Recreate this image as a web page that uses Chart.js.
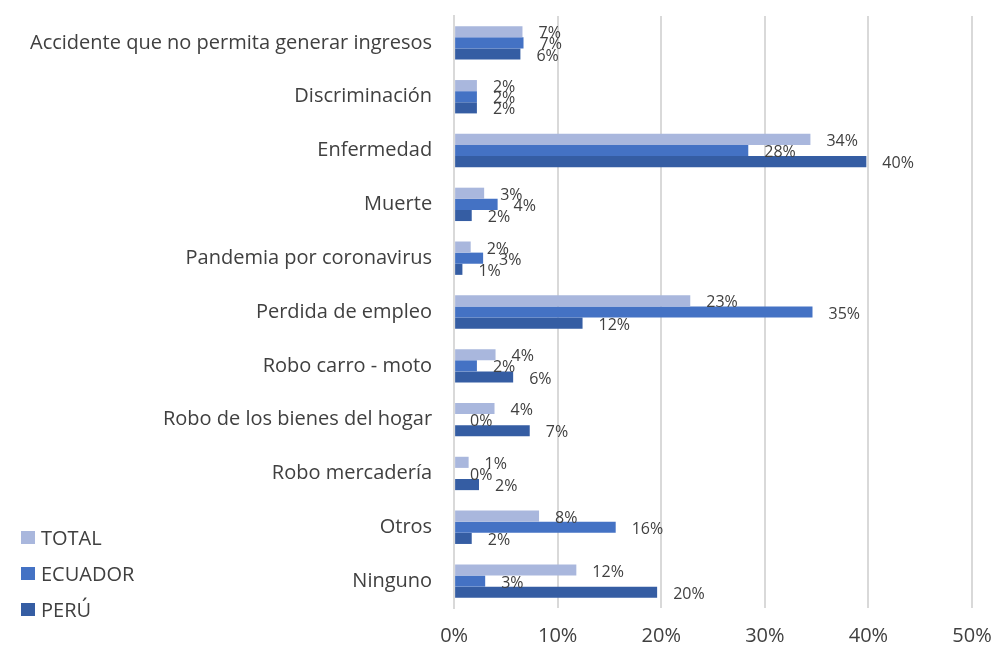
<!DOCTYPE html>
<html>
<head>
<meta charset="utf-8">
<script src="https://cdn.jsdelivr.net/npm/chart.js@4/dist/chart.umd.min.js"></script>
<style>
  html, body { margin: 0; padding: 0; background: #fff; }
  #wrap { width: 1004px; height: 648px; }
</style>
</head>
<body>
<div id="wrap"><canvas id="chart"></canvas></div>
<script>
// data
const categories = [
    'Accidente que no permita generar ingresos',
    'Discriminación',
    'Enfermedad',
    'Muerte',
    'Pandemia por coronavirus',
    'Perdida de empleo',
    'Robo carro - moto',
    'Robo de los bienes del hogar',
    'Robo mercadería',
    'Otros',
    'Ninguno'
];
const seriesNames = [ 'TOTAL', 'ECUADOR', 'PERÚ' ];
const totalValues   = [ 6.6, 2.2, 34.4, 2.9, 1.6, 22.8, 4.0, 3.9, 1.4, 8.2, 11.8 ];
const ecuadorValues = [ 6.7, 2.2, 28.4, 4.2, 2.8, 34.6, 2.2, 0.0, 0.0, 15.6, 3.0 ];
const peruValues    = [ 6.4, 2.2, 39.8, 1.7, 0.8, 12.4, 5.7, 7.3, 2.4, 1.7, 19.6 ];
const xTicks = [ 0, 10, 20, 30, 40, 50 ];

const colors = {
    total   : '#A9B7DD',
    ecuador : '#4472C4',
    peru    : '#355DA3',
    text    : '#404040',
    grid    : '#D9D9D9'
};
const fontFamily = '"Open Sans", sans-serif';

// value labels at the end of each bar
let barLabels = {
    id : 'barLabels',
    afterDatasetsDraw : ( chart ) => {
        let ctx = chart.ctx;
        ctx.save();
        ctx.font = '16px ' + fontFamily;
        ctx.fillStyle = colors.text;
        ctx.textAlign = 'left';
        ctx.textBaseline = 'middle';
        chart.data.datasets.forEach( ( ds, i ) => {
            chart.getDatasetMeta( i ).data.forEach( ( el, j ) => {
                ctx.fillText( Math.round( ds.data[ j ] ) + '%', el.x + 16, el.y + 2 );
            } );
        } );
        ctx.restore();
    }
};

// legend stacked in the bottom-left corner
let sideLegend = {
    id : 'sideLegend',
    afterDraw : ( chart ) => {
        let ctx = chart.ctx;
        ctx.save();
        ctx.font = '20px ' + fontFamily;
        ctx.textBaseline = 'middle';
        chart.data.datasets.forEach( ( ds, i ) => {
            let y = 538 + i * 36;
            ctx.fillStyle = ds.backgroundColor;
            ctx.fillRect( 21, y - 7, 14, 13 );
            ctx.fillStyle = colors.text;
            ctx.fillText( ds.label, 41, y + 1 );
        } );
        ctx.restore();
    }
};

let ctx = document.getElementById( 'chart' ).getContext( '2d' );
let chart = new Chart( ctx, {
    type : 'bar',
    data : {
        labels : categories,
        datasets : [
            { label : seriesNames[0], data : totalValues,   backgroundColor : colors.total },
            { label : seriesNames[1], data : ecuadorValues, backgroundColor : colors.ecuador },
            { label : seriesNames[2], data : peruValues,    backgroundColor : colors.peru }
        ]
    },
    options : {
        indexAxis : 'y',
        responsive : true,
        maintainAspectRatio : false,
        animation : false,
        layout : { padding : { top : 16, right : 32, bottom : -16, left : 8 } },
        datasets : { bar : { categoryPercentage : 0.62, barPercentage : 1.0 } },
        plugins : {
            legend : { display : false },
            tooltip : { enabled : false }
        },
        scales : {
            x : {
                min : 0,
                max : 50,
                afterBuildTicks : ( axis ) => { axis.ticks = xTicks.map( v => ( { value : v } ) ); },
                afterFit : ( axis ) => { axis.paddingLeft = 0; axis.paddingRight = 0; },
                ticks : {
                    callback : ( v ) => v + '%',
                    color : colors.text,
                    font : { family : fontFamily, size : 20 },
                    padding : 16
                },
                grid : { color : colors.grid, lineWidth : 2, drawTicks : false },
                border : { display : false }
            },
            y : {
                afterFit : ( axis ) => { axis.paddingTop = 0; axis.paddingBottom = 0; },
                ticks : {
                    color : colors.text,
                    font : { family : fontFamily, size : 20 },
                    padding : 22
                },
                grid : { display : false, drawTicks : false },
                border : { display : true, color : colors.grid, width : 2 }
            }
        }
    },
    plugins : [ barLabels, sideLegend ]
} );
</script>
</body>
</html>
